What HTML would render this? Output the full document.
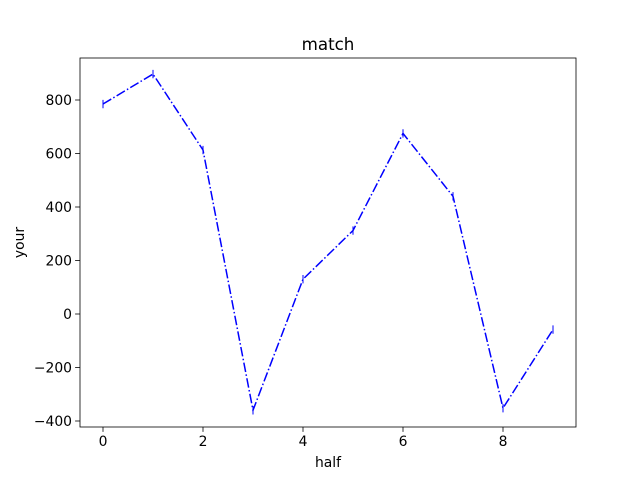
<!DOCTYPE html>
<html><head><meta charset="utf-8"><style>body{margin:0;background:#fff}svg{display:block}text{font-family:"DejaVu Sans","Liberation Sans",sans-serif;}</style></head>
<body>
<svg id="chart" width="640" height="480" xmlns="http://www.w3.org/2000/svg">
<rect x="0" y="0" width="640" height="480" fill="#fff"/>
<g id="axes"></g>
</svg>
<script>
const categories = [0,1,2,3,4,5,6,7,8,9];
const values = [785, 897, 613, -360, 130, 312, 675, 440, -352, -58];
const xTicks = [0,2,4,6,8];
const yTicks = [-400,-200,0,200,400,600,800];
const yTickLabels = ["\u2212400","\u2212200","0","200","400","600","800"];

const L=80,R=576,T=58,B=427;
const xs=v=>103+v*50;
const ys=v=>314-v*0.2675;
const ns="http://www.w3.org/2000/svg";
const g=document.getElementById('axes');
function mk(tag,attrs){const e=document.createElementNS(ns,tag);for(const k in attrs)e.setAttribute(k,attrs[k]);g.appendChild(e);return e;}

xTicks.forEach((t,i)=>{
  const l=mk('line',{x1:xs(t),x2:xs(t),y1:B,y2:B+4.9,stroke:'#000','stroke-width':0.8});
  
  
  const tx=mk('text',{x:xs(t),y:B+19,'text-anchor':'middle','font-size':'13.9px',fill:'#000'});
  tx.textContent=t;
  
  
});
yTicks.forEach((t,i)=>{
  const l=mk('line',{x1:L-4.9,x2:L,y1:ys(t),y2:ys(t),stroke:'#000','stroke-width':0.8});
  
  
  const tx=mk('text',{x:L-8,y:ys(t)+5,'text-anchor':'end','font-size':'13.9px',fill:'#000'});
  tx.textContent=yTickLabels[i];
  
  
});

const pts=categories.map((c,i)=>xs(c)+','+ys(values[i])).join(' ');
const line=mk('polyline',{points:pts,fill:'none',stroke:'#0000ff','stroke-width':1.5,'stroke-dasharray':'9.6,2.4,1.5,2.4'});


categories.forEach((c,i)=>{
  const m=mk('line',{x1:xs(c),x2:xs(c),y1:ys(values[i])-4.2,y2:ys(values[i])+4.2,stroke:'#0000ff','stroke-width':1});
  
  
});

const fr=mk('rect',{x:L,y:T,width:R-L,height:B-T,fill:'none',stroke:'#000','stroke-width':0.8});


const ti=mk('text',{x:(L+R)/2,y:T-8,'text-anchor':'middle','font-size':'16.7px',fill:'#000'});
ti.textContent='match';


const xl=mk('text',{x:(L+R)/2,y:467,'text-anchor':'middle','font-size':'13.9px',fill:'#000'});
xl.textContent='half';


const yl=mk('text',{x:0,y:0,'text-anchor':'middle','font-size':'13.9px',fill:'#000',transform:'translate(24,'+((T+B)/2)+') rotate(-90)'});
yl.textContent='your';


</script>
</body></html>
